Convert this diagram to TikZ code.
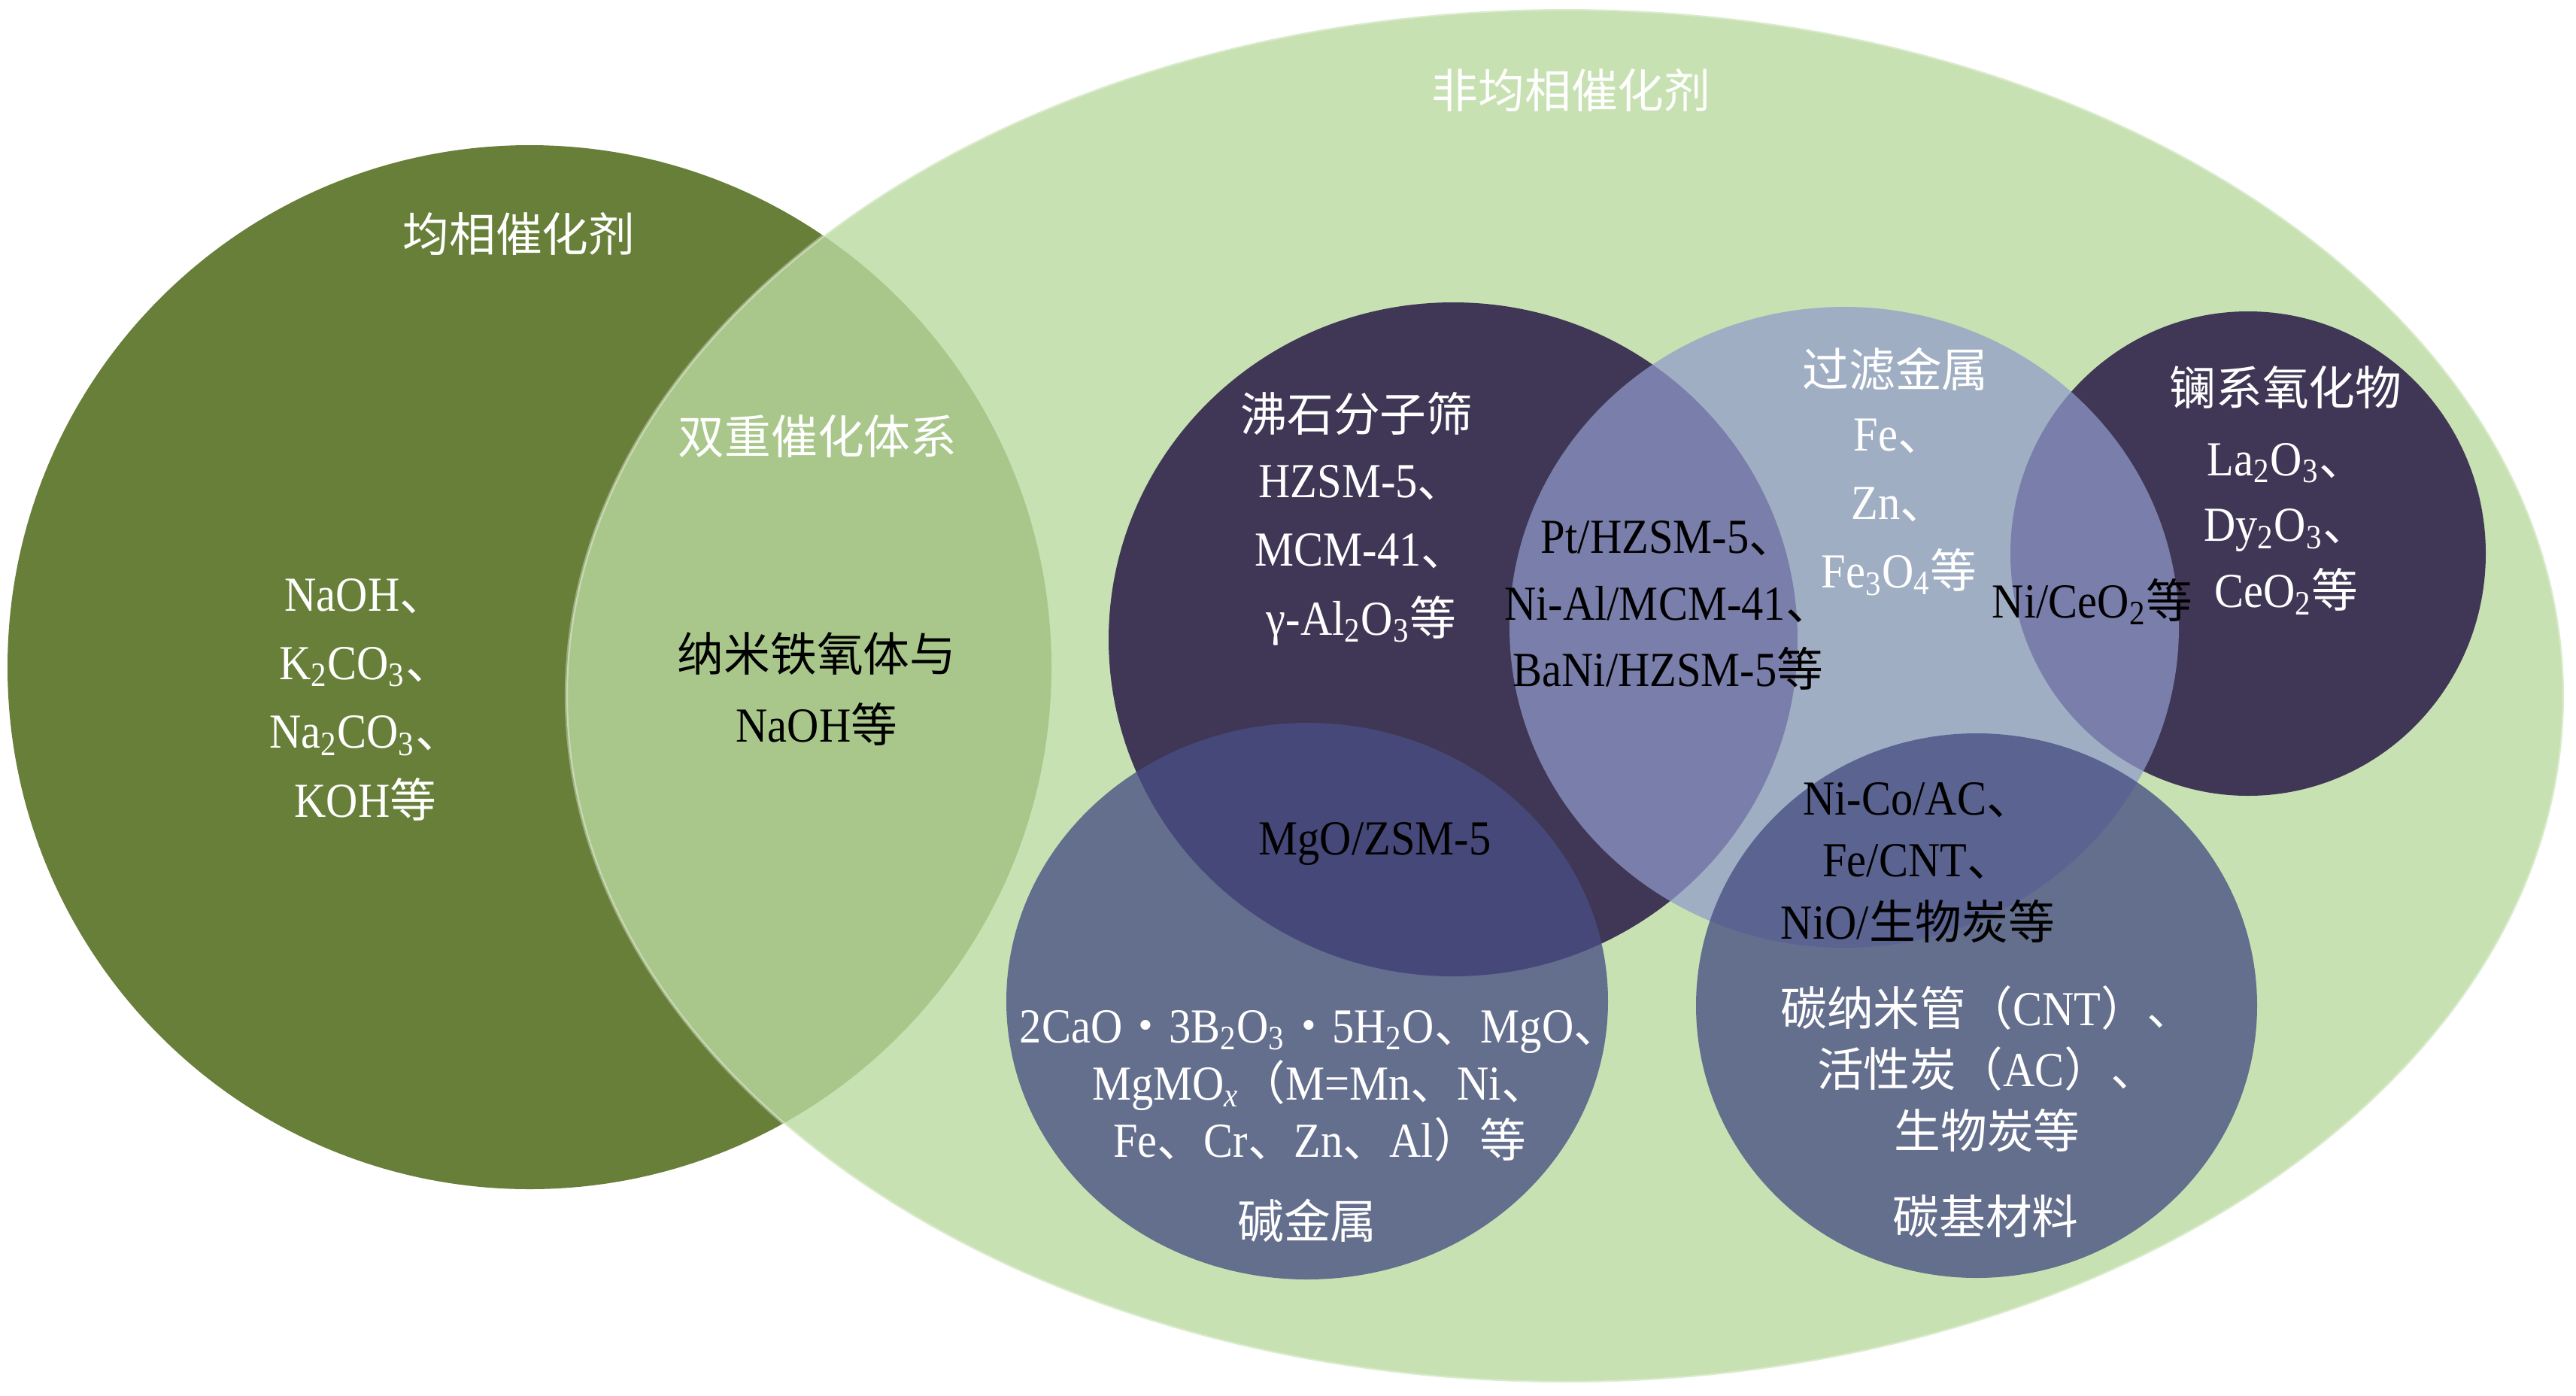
\documentclass[tikz,border=0pt]{standalone}
\usepackage{fontspec}
\setmainfont{Liberation Serif}[FakeStretch=0.9]
\newfontfamily\cjk{Noto Sans CJK SC}[Scale=0.95]
\newcommand{\zh}[1]{{\cjk #1}}
\definecolor{homogreen}{RGB}{103,127,56}
\definecolor{heterogreen}{RGB}{186,218,159}
\definecolor{zeopurple}{RGB}{63,55,85}
\definecolor{metalblue}{RGB}{146,154,203}
\definecolor{slateblue}{RGB}{72,78,132}
\tikzset{
  darkblob/.style={fill=zeopurple},
  metalblob/.style={fill=metalblue, fill opacity=0.72},
  slateblob/.style={fill=slateblue, fill opacity=0.78},
  lbl/.style={align=center, inner sep=0pt, font=\fontsize{18.5}{26}\selectfont},
  wlbl/.style={lbl, text=white},
  blbl/.style={lbl, text=black}
}

\begin{document}
\begin{tikzpicture}
  \useasboundingbox (0,0) rectangle (34.25,-18.55);

  % catalyst groups
  \fill[homogreen] (7.04,-8.87) circle (6.94);
  \fill[heterogreen, fill opacity=0.8, draw=white, draw opacity=0.35, line width=1.2pt]
    (20.81,-9.25) ellipse [x radius=13.28, y radius=9.13];
  \fill[darkblob] (19.32,-8.50) ellipse [x radius=4.58, y radius=4.48];
  \fill[darkblob] (29.89,-7.36) ellipse [x radius=3.16, y radius=3.22];
  \fill[metalblob] (24.52,-8.34) ellipse [x radius=4.45, y radius=4.26];
  \fill[slateblob] (17.38,-13.31) ellipse [x radius=4.00, y radius=3.70];
  \fill[slateblob] (26.28,-13.37) ellipse [x radius=3.73, y radius=3.62];

  % titles
  \node[wlbl] (homo) at (6.90,-3.11) {\zh{均相催化剂}};
  \node[wlbl] (hetero) at (20.89,-1.20) {\zh{非均相催化剂}};
  \node[wlbl] (dual) at (10.87,-5.80) {\zh{双重催化体系}};
  \node[wlbl] (zeo) at (18.04,-5.50) {\zh{沸石分子筛}};
  \node[wlbl] (metal) at (25.20,-4.91) {\zh{过滤金属}};
  \node[wlbl] (lanth) at (30.39,-5.15) {\zh{镧系氧化物}};
  \node[wlbl] (alkali) at (17.38,-16.23) {\zh{碱金属}};
  \node[wlbl] (carbon) at (26.40,-16.17) {\zh{碳基材料}};

  % examples
  \node[wlbl] (homolist) at (4.86,-9.30)
    {NaOH\zh{、}\\K\textsubscript{2}CO\textsubscript{3}\zh{、}\\Na\textsubscript{2}CO\textsubscript{3}\zh{、}\\KOH\zh{等}};
  \node[blbl, font=\fontsize{18.5}{26.6}\selectfont] (duallist) at (10.86,-9.16)
    {\zh{纳米铁氧体与}\\NaOH\zh{等}};
  \node[wlbl] (zeolist) at (18.10,-7.38)
    {HZSM-5\zh{、}\\MCM-41\zh{、}\\γ-Al\textsubscript{2}O\textsubscript{3}\zh{等}};
  \node[wlbl] (metallist) at (25.25,-6.74)
    {Fe\zh{、}\\Zn\zh{、}\\Fe\textsubscript{3}O\textsubscript{4}\zh{等}};
  \node[wlbl, font=\fontsize{18.5}{25}\selectfont] (lanthlist) at (30.40,-7.03)
    {La\textsubscript{2}O\textsubscript{3}\zh{、}\\Dy\textsubscript{2}O\textsubscript{3}\zh{、}\\CeO\textsubscript{2}\zh{等}};
  \node[blbl, font=\fontsize{18.5}{25.2}\selectfont] (ptlist) at (22.18,-8.05)
    {Pt/HZSM-5\zh{、}\\Ni-Al/MCM-41\zh{、}\\BaNi/HZSM-5\zh{等}};
  \node[blbl] (nice) at (27.82,-8.00) {Ni/CeO\textsubscript{2}\zh{等}};
  \node[blbl] (mgo) at (18.28,-11.22) {MgO/ZSM-5};
  \node[blbl, font=\fontsize{18.5}{23.5}\selectfont] (nicolist) at (25.50,-11.47)
    {Ni-Co/AC\zh{、}\\Fe/CNT\zh{、}\\NiO/\zh{生物炭等}};
  \node[wlbl, font=\fontsize{18.5}{23.3}\selectfont] (carbonlist) at (26.42,-14.21)
    {\zh{碳纳米管（}CNT\zh{）、}\\\zh{活性炭（}AC\zh{）、}\\\zh{生物炭等}};
  \node[wlbl, font=\fontsize{18.5}{21.6}\selectfont] (alkalilist) at (17.55,-14.44)
    {2CaO\zh{・}3B\textsubscript{2}O\textsubscript{3}\zh{・}5H\textsubscript{2}O\zh{、}MgO\zh{、}\\MgMO\textsubscript{\textit{x}}\zh{（}M=Mn\zh{、}Ni\zh{、}\\Fe\zh{、}Cr\zh{、}Zn\zh{、}Al\zh{）等}};
\end{tikzpicture}
\end{document}
